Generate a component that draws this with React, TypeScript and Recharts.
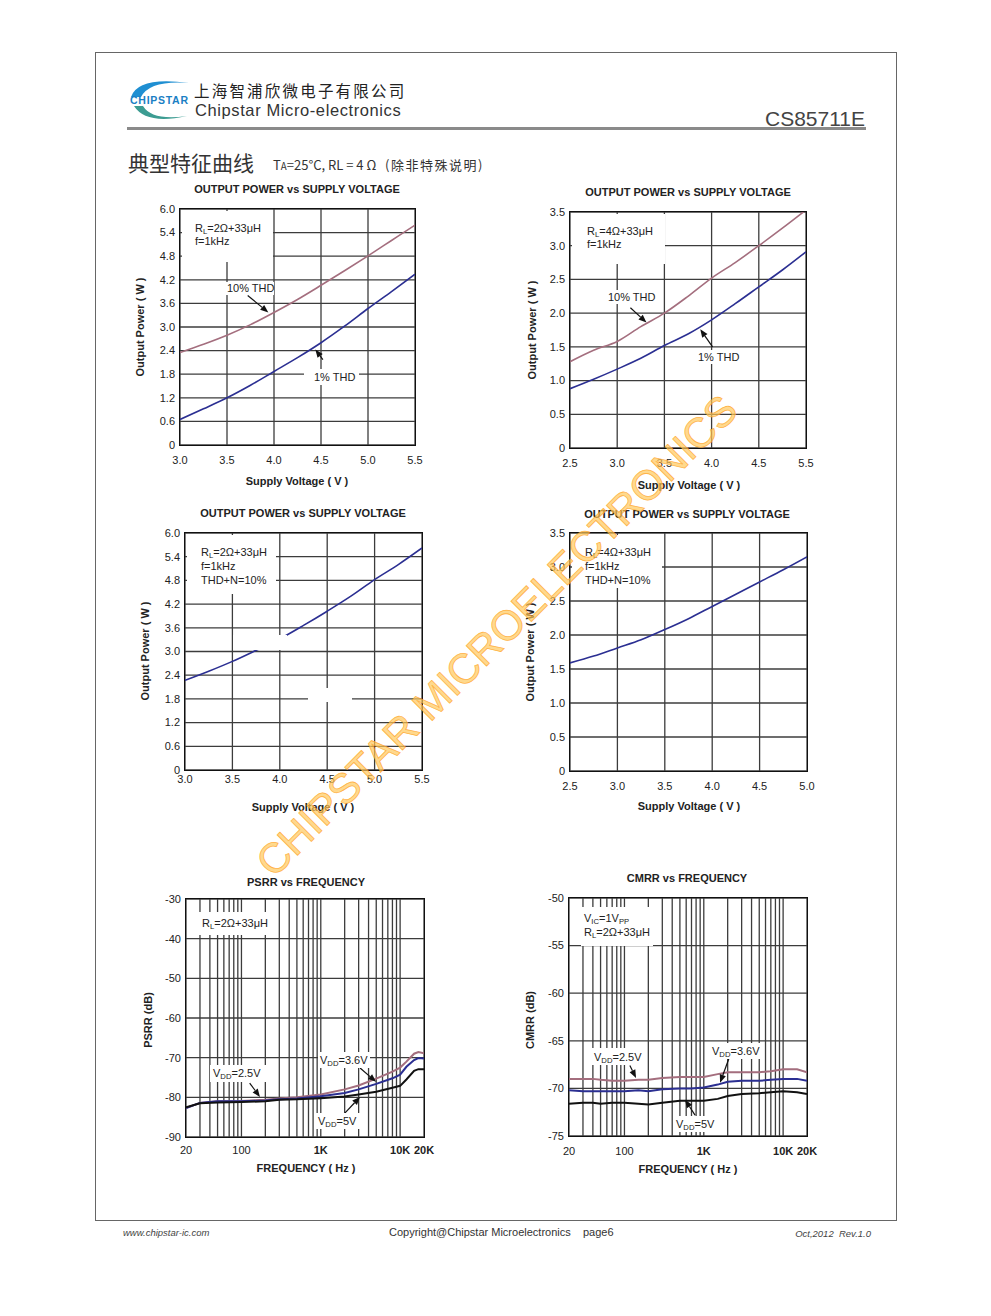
import React from "react";
import { CartesianGrid, Line, LineChart, ReferenceLine, XAxis, YAxis } from "recharts";

const FONT = '"Liberation Sans", Arial, Helvetica, sans-serif';
const CJK = '"Noto Sans CJK SC", "Liberation Sans", sans-serif';
const MAUVE = "#a46e7e";
const BLUE = "#2b2f92";
const BLACK = "#111111";
const GRID = "#3c3c3c";
const INK = "#222";

// chart 1: RL=2Ω, output power vs supply voltage
const c1Vdd = [3.0, 3.25, 3.5, 3.75, 4.0, 4.25, 4.5, 4.75, 5.0, 5.25, 5.5];
const c1Thd10 = [2.35, 2.56, 2.79, 3.06, 3.37, 3.7, 4.06, 4.43, 4.81, 5.2, 5.59];
const c1Thd1 = [0.65, 0.92, 1.2, 1.52, 1.87, 2.22, 2.6, 3.02, 3.47, 3.9, 4.34];
const c1XTicks = [3.0, 3.5, 4.0, 4.5, 5.0, 5.5];
const c1YTicks = [0, 0.6, 1.2, 1.8, 2.4, 3.0, 3.6, 4.2, 4.8, 5.4, 6.0];
const c1Arrows = [
  { from: [3.72, 3.8], to: [3.94, 3.37] },
  { from: [4.52, 2.17], to: [4.44, 2.43] },
];

// chart 2: RL=4Ω (last tick is printed "5.5" on the original)
const c2Vdd = [2.5, 2.75, 3.0, 3.25, 3.5, 3.75, 4.0, 4.25, 4.5, 4.75, 5.0];
const c2Thd10 = [1.28, 1.45, 1.58, 1.8, 2.0, 2.25, 2.52, 2.75, 3.0, 3.26, 3.53];
const c2Thd1 = [0.88, 1.02, 1.17, 1.33, 1.52, 1.69, 1.9, 2.14, 2.39, 2.64, 2.91];
const c2XTicks = [2.5, 3.0, 3.5, 4.0, 4.5, 5.0];
const c2XLabels = ["2.5", "3.0", "3.5", "4.0", "4.5", "5.5"];
const c2YTicks = [0, 0.5, 1.0, 1.5, 2.0, 2.5, 3.0, 3.5];
const c2Arrows = [
  { from: [3.14, 2.08], to: [3.31, 1.86] },
  { from: [4.01, 1.5], to: [3.88, 1.76] },
];

// chart 3: RL=2Ω, THD+N=10%
const c3Vdd = [3.0, 3.25, 3.5, 3.75, 4.0, 4.25, 4.5, 4.75, 5.0, 5.25, 5.5];
const c3Pout = [2.27, 2.5, 2.75, 3.03, 3.32, 3.66, 4.02, 4.4, 4.82, 5.2, 5.62];

// chart 4: RL=4Ω, THD+N=10%
const c4Vdd = [2.5, 2.75, 3.0, 3.25, 3.5, 3.75, 4.0, 4.25, 4.5, 4.75, 5.0];
const c4Pout = [1.59, 1.69, 1.81, 1.93, 2.08, 2.24, 2.42, 2.6, 2.78, 2.96, 3.15];
const c4XTicks = [2.5, 3.0, 3.5, 4.0, 4.5, 5.0];

// PSRR vs frequency
const psrrFreq = [20, 30, 50, 100, 200, 300, 500, 1000, 2000, 3000, 5000, 8000, 10000, 12000, 15000, 17000, 20000];
const psrr25 = [-82.7, -81.4, -81.0, -80.9, -80.6, -80.3, -80.0, -79.3, -78.0, -77.0, -75.3, -73.5, -72.5, -71.0, -69.0, -68.6, -68.9];
const psrr36 = [-82.7, -81.4, -81.0, -81.0, -80.8, -80.5, -80.3, -79.7, -78.9, -78.0, -76.6, -75.2, -74.3, -72.3, -70.6, -70.1, -70.2];
const psrr5 = [-82.5, -81.5, -81.3, -81.2, -81.0, -80.6, -80.5, -80.2, -79.8, -79.3, -78.6, -77.6, -77.1, -75.5, -73.3, -72.9, -72.9];
const psrrYTicks = [-90, -80, -70, -60, -50, -40, -30];
const psrrArrows = [
  { from: [127, -76.4], to: [171, -79.9] },
  { from: [3128, -72.6], to: [4977, -76.1] },
  { from: [2023, -83.9], to: [3128, -79.9] },
];

// CMRR vs frequency
const cmrrFreq = [20, 30, 40, 50, 70, 100, 150, 200, 300, 500, 700, 1000, 1500, 2000, 3000, 5000, 7000, 10000, 15000, 20000];
const cmrr25 = [-69.0, -69.0, -69.0, -69.1, -69.2, -69.2, -69.1, -69.1, -68.9, -68.8, -68.8, -68.8, -68.5, -68.3, -68.3, -68.3, -68.2, -68.0, -68.0, -68.3];
const cmrr36 = [-70.2, -70.3, -70.3, -70.3, -70.3, -70.3, -70.2, -70.3, -70.1, -70.0, -70.0, -69.9, -69.6, -69.3, -69.2, -69.2, -69.1, -69.0, -69.0, -69.2];
const cmrr5 = [-71.6, -71.5, -71.5, -71.6, -71.5, -71.5, -71.6, -71.7, -71.5, -71.3, -71.3, -71.3, -71.1, -70.8, -70.6, -70.5, -70.4, -70.3, -70.4, -70.6];
const cmrrYTicks = [-75, -70, -65, -60, -55, -50];
const cmrrArrows = [
  { from: [117, -67.6], to: [140, -68.9] },
  { from: [2085, -66.8], to: [1604, -69.4] },
  { from: [776, -72.8], to: [581, -71.2] },
];

const freqTicks = [20, 30, 40, 50, 60, 70, 80, 90, 100, 200, 300, 400, 500, 600, 700, 800, 900, 1000, 2000, 3000, 4000, 5000, 6000, 7000, 8000, 9000, 10000, 20000];
const freqLabels: Record<number, string> = { 20: "20", 100: "100", 1000: "1K", 10000: "10K", 20000: "20K" };

const c1Data = c1Vdd.map((x, i) => ({ x, a: c1Thd10[i], b: c1Thd1[i] }));
const c2Data = c2Vdd.map((x, i) => ({ x, a: c2Thd10[i], b: c2Thd1[i] }));
const c3Data = c3Vdd.map((x, i) => ({ x, b: c3Pout[i] }));
const c4Data = c4Vdd.map((x, i) => ({ x, b: c4Pout[i] }));
const psrrData = psrrFreq.map((x, i) => ({ x, a: psrr25[i], b: psrr36[i], c: psrr5[i] }));
const cmrrData = cmrrFreq.map((x, i) => ({ x, a: cmrr25[i], b: cmrr36[i], c: cmrr5[i] }));

const fmtV = (v: number) => v.toFixed(1);
const fmtP = (v: number) => (v === 0 ? "0" : v.toFixed(1));

function arrowShape(p: any) {
  const { x1, y1, x2, y2 } = p;
  if ([x1, y1, x2, y2].some((v) => typeof v !== "number" || isNaN(v))) return <g />;
  const ang = Math.atan2(y2 - y1, x2 - x1);
  const bx = x2 - 8 * Math.cos(ang);
  const by = y2 - 8 * Math.sin(ang);
  const px = -Math.sin(ang) * 3.2;
  const py = Math.cos(ang) * 3.2;
  return (
    <g>
      <line x1={x1} y1={y1} x2={bx} y2={by} stroke={BLACK} strokeWidth={1.2} />
      <polygon points={`${x2},${y2} ${bx + px},${by + py} ${bx - px},${by - py}`} fill={BLACK} />
    </g>
  );
}

interface Series {
  key: string;
  color: string;
  width?: number;
  type?: "monotone" | "linear";
}

interface PanelProps {
  plot: { x: number; y: number; w: number; h: number };
  data: any[];
  series: Series[];
  xDomain: [number, number];
  xTicks: number[];
  xFmt: (v: number) => string;
  xBold?: (v: number) => boolean;
  xGap: number;
  yDomain: [number, number];
  yTicks: number[];
  yFmt: (v: number) => string;
  log?: boolean;
  arrows?: { from: number[]; to: number[] }[];
}

function Panel({ plot, data, series, xDomain, xTicks, xFmt, xBold, xGap, yDomain, yTicks, yFmt, log, arrows = [] }: PanelProps) {
  const ML = 60, MT = 12, MR = 24, MB = 40;
  return (
    <div style={{ position: "absolute", left: plot.x - ML, top: plot.y - MT }}>
      <LineChart width={plot.w + ML + MR} height={plot.h + MT + MB} data={data} margin={{ top: MT, right: MR, bottom: 0, left: 0 }}>
        <CartesianGrid stroke={GRID} strokeWidth={1.3} />
        <XAxis
          dataKey="x"
          type="number"
          scale={log ? "log" : "linear"}
          domain={xDomain}
          ticks={xTicks}
          interval={0}
          height={MB}
          tickLine={false}
          axisLine={false}
          tickSize={xGap}
          tickMargin={0}
          allowDataOverflow
          tick={(p: any) => (
            <text x={p.x} y={p.y} dy="0.35em" textAnchor="middle" fontSize={11} fill={INK} fontFamily={FONT}
              fontWeight={xBold && xBold(p.payload.value) ? 700 : 400}>
              {xFmt(p.payload.value)}
            </text>
          )}
        />
        <YAxis
          type="number"
          domain={yDomain}
          ticks={yTicks}
          interval={0}
          width={ML}
          tickLine={false}
          axisLine={false}
          tickSize={5}
          tickMargin={0}
          allowDataOverflow
          tick={(p: any) => (
            <text x={p.x} y={p.y} dy="0.35em" textAnchor="end" fontSize={11} fill={INK} fontFamily={FONT}>
              {yFmt(p.payload.value)}
            </text>
          )}
        />
        {series.map((s) => (
          <Line key={s.key} dataKey={s.key} type={s.type ?? "monotone"} stroke={s.color} strokeWidth={s.width ?? 1.6}
            dot={false} activeDot={false} isAnimationActive={false} />
        ))}
        {arrows.map((a, i) => (
          <ReferenceLine key={i} segment={[{ x: a.from[0], y: a.from[1] }, { x: a.to[0], y: a.to[1] }]}
            ifOverflow="visible" shape={arrowShape} />
        ))}
      </LineChart>
      <div style={{ position: "absolute", left: ML - 1, top: MT - 1, width: plot.w + 2, height: plot.h + 2,
        border: "1.7px solid #111", boxSizing: "border-box", pointerEvents: "none" }} />
    </div>
  );
}

function Txt({ x, y, size = 11, bold, anchor = "start", color = INK, family = FONT, italic, children }: any) {
  const tx = anchor === "middle" ? "-50%" : anchor === "end" ? "-100%" : "0";
  return (
    <div style={{ position: "absolute", left: x, top: y, fontSize: size, lineHeight: 1, fontFamily: family,
      fontWeight: bold ? 700 : 400, fontStyle: italic ? "italic" : "normal", color, whiteSpace: "nowrap",
      transform: `translate(${tx}, -50%)` }}>
      {children}
    </div>
  );
}

function VTxt({ x, y, children }: any) {
  return (
    <div style={{ position: "absolute", left: x, top: y, fontSize: 11, lineHeight: 1, fontFamily: FONT, fontWeight: 700,
      color: INK, whiteSpace: "nowrap", transform: "translate(-50%, -50%) rotate(-90deg)" }}>
      {children}
    </div>
  );
}

const Box = ({ x1, y1, x2, y2 }: any) => (
  <div style={{ position: "absolute", left: x1, top: y1, width: x2 - x1, height: y2 - y1, background: "#fff" }} />
);

const Sub = ({ children }: any) => (
  <span style={{ fontSize: "0.7em", position: "relative", top: "0.3em" }}>{children}</span>
);

export default function App() {
  return (
    <div style={{ position: "absolute", left: 0, top: 0, width: 991, height: 1316, background: "#fff", fontFamily: FONT, overflow: "hidden" }}>
      {/* page frame */}
      <div style={{ position: "absolute", left: 95, top: 52, width: 802, height: 1169, border: "1px solid #666", boxSizing: "border-box" }} />

      {/* header */}
      <svg style={{ position: "absolute", left: 0, top: 0 }} width={300} height={140}>
        <path d="M131 97 Q138 76 189 83 Q150 80 141 97 Z" fill="#1f8fd2" />
        <path d="M134 106 Q146 125 187 116 Q152 121 143 106 Z" fill="#3c9c92" />
        <text x={130} y={104} fontSize={10.5} fontWeight={700} fill="#1a80c4" fontFamily={FONT} textLength={58}>CHIPSTAR</text>
      </svg>
      <Txt x={194} y={91} size={15.5} family={CJK} color="#222"><span style={{ letterSpacing: 2.2 }}>上海智浦欣微电子有限公司</span></Txt>
      <Txt x={195} y={110} size={16.5} color="#333"><span style={{ letterSpacing: 0.6 }}>Chipstar Micro-electronics</span></Txt>
      <Txt x={865} y={118} size={21} anchor="end" color="#444">CS85711E</Txt>
      <div style={{ position: "absolute", left: 127, top: 127, width: 739, height: 3, background: "#8a8a8a" }} />
      <Txt x={128} y={162} size={21} family={CJK} color="#333">典型特征曲线</Txt>
      <Txt x={273} y={165} size={13} color="#333" family={CJK}>
        T<span style={{ fontSize: "0.75em" }}>A</span>=25°C, RL = 4 Ω&nbsp;&nbsp; <span style={{ letterSpacing: 1.5 }}>(除非特殊说明)</span>
      </Txt>

      {/* chart 1 */}
      <Panel plot={{ x: 180, y: 209, w: 235, h: 236 }} data={c1Data}
        series={[{ key: "a", color: MAUVE }, { key: "b", color: BLUE }]}
        xDomain={[3, 5.5]} xTicks={c1XTicks} xFmt={fmtV} xGap={15}
        yDomain={[0, 6]} yTicks={c1YTicks} yFmt={fmtP} arrows={c1Arrows} />
      <Txt x={297} y={189} bold anchor="middle">OUTPUT POWER vs SUPPLY VOLTAGE</Txt>
      <VTxt x={140} y={327}>Output Power ( W )</VTxt>
      <Txt x={297} y={481} bold anchor="middle">Supply Voltage ( V )</Txt>
      <Box x1={182} y1={211} x2={273} y2={262} />
      <Txt x={195} y={228}>R<Sub>L</Sub>=2Ω+33μH</Txt>
      <Txt x={195} y={241}>f=1kHz</Txt>
      <Box x1={226} y1={282} x2={274} y2={295} />
      <Txt x={227} y={288}>10% THD</Txt>
      <Box x1={304} y1={369} x2={359} y2={385} />
      <Txt x={314} y={377}>1% THD</Txt>

      {/* chart 2 */}
      <Panel plot={{ x: 570, y: 212, w: 236, h: 236 }} data={c2Data}
        series={[{ key: "a", color: MAUVE }, { key: "b", color: BLUE }]}
        xDomain={[2.5, 5]} xTicks={c2XTicks} xFmt={(v) => c2XLabels[c2XTicks.indexOf(v)] ?? ""} xGap={15}
        yDomain={[0, 3.5]} yTicks={c2YTicks} yFmt={fmtP} arrows={c2Arrows} />
      <Txt x={688} y={192} bold anchor="middle">OUTPUT POWER vs SUPPLY VOLTAGE</Txt>
      <VTxt x={532} y={330}>Output Power ( W )</VTxt>
      <Txt x={689} y={485} bold anchor="middle">Supply Voltage ( V )</Txt>
      <Box x1={572} y1={214} x2={665} y2={264} />
      <Txt x={587} y={231}>R<Sub>L</Sub>=4Ω+33μH</Txt>
      <Txt x={587} y={244}>f=1kHz</Txt>
      <Box x1={606} y1={290} x2={659} y2={304} />
      <Txt x={608} y={297}>10% THD</Txt>
      <Box x1={696} y1={350} x2={742} y2={364} />
      <Txt x={698} y={357}>1% THD</Txt>

      {/* chart 3 */}
      <Panel plot={{ x: 185, y: 533, w: 237, h: 237 }} data={c3Data}
        series={[{ key: "b", color: BLUE }]}
        xDomain={[3, 5.5]} xTicks={c1XTicks} xFmt={fmtV} xGap={9}
        yDomain={[0, 6]} yTicks={c1YTicks} yFmt={fmtP} />
      <Txt x={303} y={513} bold anchor="middle">OUTPUT POWER vs SUPPLY VOLTAGE</Txt>
      <VTxt x={145} y={651}>Output Power ( W )</VTxt>
      <Txt x={303} y={807} bold anchor="middle">Supply Voltage ( V )</Txt>
      <Box x1={187} y1={535} x2={276} y2={594} />
      <Txt x={201} y={552}>R<Sub>L</Sub>=2Ω+33μH</Txt>
      <Txt x={201} y={566}>f=1kHz</Txt>
      <Txt x={201} y={580}>THD+N=10%</Txt>
      <Box x1={233} y1={635} x2={287} y2={650} />
      <Box x1={308} y1={688} x2={352} y2={702} />

      {/* chart 4 */}
      <Panel plot={{ x: 570, y: 533, w: 237, h: 238 }} data={c4Data}
        series={[{ key: "b", color: BLUE }]}
        xDomain={[2.5, 5]} xTicks={c4XTicks} xFmt={fmtV} xGap={15}
        yDomain={[0, 3.5]} yTicks={c2YTicks} yFmt={fmtP} />
      <Txt x={687} y={514} bold anchor="middle">OUTPUT POWER vs SUPPLY VOLTAGE</Txt>
      <VTxt x={530} y={652}>Output Power ( W )</VTxt>
      <Txt x={689} y={806} bold anchor="middle">Supply Voltage ( V )</Txt>
      <Box x1={572} y1={535} x2={662} y2={588} />
      <Txt x={585} y={552}>R<Sub>L</Sub>=4Ω+33μH</Txt>
      <Txt x={585} y={566}>f=1kHz</Txt>
      <Txt x={585} y={580}>THD+N=10%</Txt>

      {/* PSRR */}
      <Panel plot={{ x: 186, y: 899, w: 238, h: 238 }} data={psrrData}
        series={[{ key: "a", color: MAUVE, width: 2, type: "linear" }, { key: "b", color: BLUE, width: 2, type: "linear" }, { key: "c", color: BLACK, width: 2, type: "linear" }]}
        log xDomain={[20, 20000]} xTicks={freqTicks} xFmt={(v) => freqLabels[v] ?? ""} xBold={(v) => v >= 1000} xGap={13}
        yDomain={[-90, -30]} yTicks={psrrYTicks} yFmt={(v) => String(v)} arrows={psrrArrows} />
      <Txt x={306} y={882} bold anchor="middle">PSRR vs FREQUENCY</Txt>
      <VTxt x={148} y={1020}>PSRR (dB)</VTxt>
      <Txt x={306} y={1168} bold anchor="middle">FREQUENCY ( Hz )</Txt>
      <Box x1={196} y1={912} x2={272} y2={935} />
      <Txt x={202} y={923}>R<Sub>L</Sub>=2Ω+33μH</Txt>
      <Box x1={210} y1={1065} x2={266} y2={1082} />
      <Txt x={213} y={1073}>V<Sub>DD</Sub>=2.5V</Txt>
      <Box x1={318} y1={1052} x2={370} y2={1068} />
      <Txt x={320} y={1060}>V<Sub>DD</Sub>=3.6V</Txt>
      <Box x1={315} y1={1113} x2={360} y2={1129} />
      <Txt x={318} y={1121}>V<Sub>DD</Sub>=5V</Txt>

      {/* CMRR */}
      <Panel plot={{ x: 569, y: 898, w: 238, h: 238 }} data={cmrrData}
        series={[{ key: "a", color: MAUVE, width: 2, type: "linear" }, { key: "b", color: BLUE, width: 2, type: "linear" }, { key: "c", color: BLACK, width: 2, type: "linear" }]}
        log xDomain={[20, 20000]} xTicks={freqTicks} xFmt={(v) => freqLabels[v] ?? ""} xBold={(v) => v >= 1000} xGap={15}
        yDomain={[-75, -50]} yTicks={cmrrYTicks} yFmt={(v) => String(v)} arrows={cmrrArrows} />
      <Txt x={687} y={878} bold anchor="middle">CMRR vs FREQUENCY</Txt>
      <VTxt x={530} y={1020}>CMRR (dB)</VTxt>
      <Txt x={688} y={1169} bold anchor="middle">FREQUENCY ( Hz )</Txt>
      <Box x1={581} y1={907} x2={653} y2={946} />
      <Txt x={584} y={918}>V<Sub>IC</Sub>=1V<Sub>PP</Sub></Txt>
      <Txt x={584} y={932}>R<Sub>L</Sub>=2Ω+33μH</Txt>
      <Box x1={591} y1={1048} x2={644} y2={1065} />
      <Txt x={594} y={1057}>V<Sub>DD</Sub>=2.5V</Txt>
      <Box x1={709} y1={1043} x2={763} y2={1059} />
      <Txt x={712} y={1051}>V<Sub>DD</Sub>=3.6V</Txt>
      <Box x1={673} y1={1116} x2={716} y2={1132} />
      <Txt x={676} y={1124}>V<Sub>DD</Sub>=5V</Txt>

      {/* footer */}
      <Txt x={123} y={1233} size={9.5} italic color="#444">www.chipstar-ic.com</Txt>
      <Txt x={389} y={1232} size={11} color="#333">Copyright@Chipstar Microelectronics&nbsp;&nbsp;&nbsp; page6</Txt>
      <Txt x={871} y={1234} size={9.5} italic anchor="end" color="#444">Oct,2012&nbsp; Rev.1.0</Txt>

      {/* watermark */}
      <div style={{ position: "absolute", left: 497, top: 636, transform: "translate(-50%, -50%) rotate(-45deg)",
        fontSize: 42, lineHeight: 1, fontFamily: FONT, color: "rgba(255, 200, 90, 0.7)", whiteSpace: "nowrap",
        WebkitTextStroke: "0.8px rgba(255, 165, 40, 0.8)", pointerEvents: "none" }}>
        CHIPSTAR MICROELECTRONICS
      </div>
    </div>
  );
}
